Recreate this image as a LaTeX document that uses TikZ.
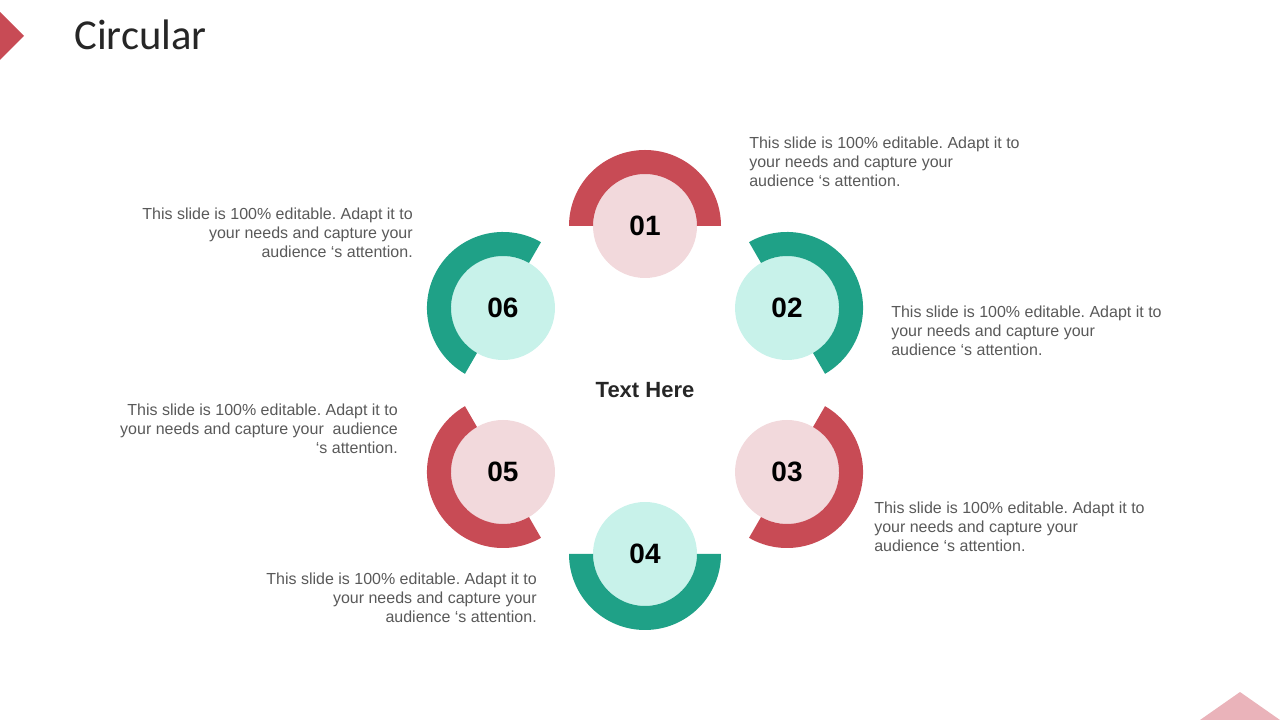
\documentclass[tikz,border=0pt]{standalone}
\usepackage{fontspec}
\setmainfont{Liberation Sans}
\newfontfamily\titlefont{Carlito}
\usepackage{tikz}
\usetikzlibrary{positioning, shapes}
\definecolor{arcred}{RGB}{200,75,85}
\definecolor{arcteal}{RGB}{31,161,135}
\definecolor{lightred}{RGB}{242,217,220}
\definecolor{lightteal}{RGB}{200,242,234}
\definecolor{cornerpink}{RGB}{234,179,186}
\definecolor{textgray}{RGB}{89,89,89}
\tikzstyle{num_red} = [circle, fill=lightred, minimum size=78pt, inner sep=0pt, font=\fontsize{21}{24}\selectfont\bfseries]
\tikzstyle{num_teal} = [circle, fill=lightteal, minimum size=78pt, inner sep=0pt, font=\fontsize{21}{24}\selectfont\bfseries]
\tikzstyle{desc_style} = [inner sep=0pt, text=textgray, font=\fontsize{12}{14.25}\selectfont]
\frenchspacing

\begin{document}
\begin{tikzpicture}[x=0.75pt, y=0.75pt]
	\useasboundingbox (0,0) rectangle (1280,720);
	
	  % 标题
	  \fill[arcred] (0,708) -- (24,684) -- (0,660) -- cycle;
	  \fill[cornerpink] (1200,720-720) -- (1240,720-692) -- (1280,720-720) -- cycle;
	  \node[anchor=west, inner sep=0pt, text={rgb,255:red,38;green,38;blue,38}, font=\titlefont\fontsize{32}{38}\selectfont] (title) at (74,685) {Circular};
	  
	  % 中心
	  \node[font=\fontsize{16.5}{20}\selectfont\bfseries, text={rgb,255:red,38;green,38;blue,38}] (center) at (645,330) {Text Here};
	  
	  % 圆形节点
	  \node[num_red] (c1) at ([shift={(90:123pt)}]center.center) {01};
	  \node[num_teal] (c2) at ([shift={(30:123pt)}]center.center) {02};
	  \node[num_red] (c3) at ([shift={(-30:123pt)}]center.center) {03};
	  \node[num_teal] (c4) at ([shift={(-90:123pt)}]center.center) {04};
	  \node[num_red] (c5) at ([shift={(-150:123pt)}]center.center) {05};
	  \node[num_teal] (c6) at ([shift={(150:123pt)}]center.center) {06};
	  
	  % 外圈弧
	  \fill[arcred] ([shift={(0:57pt)}]c1.center) arc[start angle=0, end angle=180, radius=57pt] -- ([shift={(180:39pt)}]c1.center) arc[start angle=180, end angle=0, radius=39pt] -- cycle;
	  \fill[arcteal] ([shift={(-60:57pt)}]c2.center) arc[start angle=-60, end angle=120, radius=57pt] -- ([shift={(120:39pt)}]c2.center) arc[start angle=120, end angle=-60, radius=39pt] -- cycle;
	  \fill[arcred] ([shift={(-120:57pt)}]c3.center) arc[start angle=-120, end angle=60, radius=57pt] -- ([shift={(60:39pt)}]c3.center) arc[start angle=60, end angle=-120, radius=39pt] -- cycle;
	  \fill[arcteal] ([shift={(-180:57pt)}]c4.center) arc[start angle=-180, end angle=0, radius=57pt] -- ([shift={(0:39pt)}]c4.center) arc[start angle=0, end angle=-180, radius=39pt] -- cycle;
	  \fill[arcred] ([shift={(120:57pt)}]c5.center) arc[start angle=120, end angle=300, radius=57pt] -- ([shift={(300:39pt)}]c5.center) arc[start angle=300, end angle=120, radius=39pt] -- cycle;
	  \fill[arcteal] ([shift={(60:57pt)}]c6.center) arc[start angle=60, end angle=240, radius=57pt] -- ([shift={(240:39pt)}]c6.center) arc[start angle=240, end angle=60, radius=39pt] -- cycle;
	  
	  % 说明文字
	  \node[desc_style, anchor=west, align=left] (t1) at (749,720-162) {This slide is 100\% editable. Adapt it to\\your needs and capture your\\audience ‘s attention.};
	  \node[desc_style, anchor=west, align=left] (t2) at (891,720-331) {This slide is 100\% editable. Adapt it to\\your needs and capture your\\audience ‘s attention.};
	  \node[desc_style, anchor=west, align=left] (t3) at (874,720-527) {This slide is 100\% editable. Adapt it to\\your needs and capture your\\audience ‘s attention.};
	  \node[desc_style, anchor=east, align=right] (t4) at (537,720-598) {This slide is 100\% editable. Adapt it to\\your needs and capture your\\audience ‘s attention.};
	  \node[desc_style, anchor=east, align=right] (t5) at (398,720-429) {This slide is 100\% editable. Adapt it to\\your needs and capture your~ audience\\‘s attention.};
	  \node[desc_style, anchor=east, align=right] (t6) at (413,720-233) {This slide is 100\% editable. Adapt it to\\your needs and capture your\\audience ‘s attention.};
	  
	  \end{tikzpicture}
\end{document}
